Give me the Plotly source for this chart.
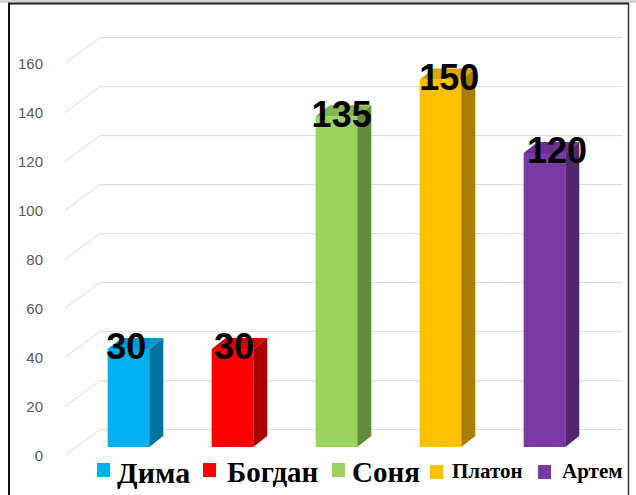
import plotly.graph_objects as go

# ---------------- data ----------------
names = ["Дима", "Богдан", "Соня", "Платон", "Артем"]
values = [40, 40, 135, 150, 120]            # bar heights as drawn
label_texts = ["30", "30", "135", "150", "120"]  # data labels as printed
colors = ["#00B0F0", "#FF0000", "#9AD35E", "#FFC000", "#7A3AA6"]
y_ticks = [0, 20, 40, 60, 80, 100, 120, 140, 160]
legend_sizes = [30, 29, 29, 21, 21]

# ---------------- styling / geometry ----------------
W, H = 636, 495
ML, MR, MT, MB = 10, 10, 20, 35
BAR_W = 0.4
DEPTH_X = 0.135
DEPTH_Y = 4.5
FRONT_SHIFT = -3.5
BACK_SHIFT = 7.1
GRID_FRONT_X = -0.611
GRID_BACK_X = -0.274
GRID_END_X = 4.745
X_RANGE = [-1.139, 4.784]
Y_RANGE = [-5.306, 174.29]
LABEL_DX0, LABEL_DX_STEP, LABEL_DY = -0.02, 0.035, -0.6


def shade(hexc, f):
    h = hexc.lstrip("#")
    r, g, b = (int(h[i:i + 2], 16) for i in (0, 2, 4))
    return "rgb(%d,%d,%d)" % (int(r * f), int(g * f), int(b * f))


def px(xp):
    return (xp - ML) / (W - ML - MR)


def py(yp):
    return (H - MB - yp) / (H - MT - MB)


fig = go.Figure()
shapes = []

# 3D gridlines (side diagonal + back wall), drawn below the traces
for t in y_ticks:
    path = "M %f,%f L %f,%f L %f,%f" % (
        GRID_FRONT_X, t + FRONT_SHIFT, GRID_BACK_X, t + BACK_SHIFT,
        GRID_END_X, t + BACK_SHIFT)
    shapes.append(dict(type="path", xref="x", yref="y", path=path,
                       line=dict(color="#D9D9D9", width=1), layer="below"))

xs = list(range(len(names)))

# side and top faces
for i, v in enumerate(values):
    r = i + BAR_W / 2
    l = i - BAR_W / 2
    fig.add_trace(go.Scatter(
        x=[r, r + DEPTH_X, r + DEPTH_X, r, r],
        y=[0, DEPTH_Y, v + DEPTH_Y, v, 0],
        mode="lines", fill="toself", fillcolor=shade(colors[i], 0.66),
        line=dict(width=0, color=shade(colors[i], 0.66)),
        hoverinfo="skip", showlegend=False))
    fig.add_trace(go.Scatter(
        x=[l, r, r + DEPTH_X, l + DEPTH_X, l],
        y=[v, v, v + DEPTH_Y, v + DEPTH_Y, v],
        mode="lines", fill="toself", fillcolor=shade(colors[i], 0.86),
        line=dict(width=0, color=shade(colors[i], 0.86)),
        hoverinfo="skip", showlegend=False))

# front faces
fig.add_trace(go.Bar(x=xs, y=values, width=BAR_W, marker_color=colors,
                     marker_line_width=0, showlegend=False, hovertext=names))

# data labels
fig.add_trace(go.Scatter(
    x=[i + LABEL_DX0 + LABEL_DX_STEP * i for i in xs],
    y=[v + LABEL_DY for v in values],
    mode="text", text=label_texts, textposition="middle center",
    textfont=dict(family="Liberation Sans", size=36, color="black",
                  weight="bold"),
    hoverinfo="skip", showlegend=False, cliponaxis=False))

# invisible trace for label axis
fig.add_trace(go.Scatter(x=[None], y=[None], yaxis="y2", showlegend=False))

# legend (manual: squares + text)
sq_left = [97, 203, 332, 430, 538]
sq_top = [463, 463, 463, 465, 465]
txt_left = [117, 227, 352, 452, 562]
txt_mid = [472, 472, 472, 471, 471]
annotations = []
for i, n in enumerate(names):
    shapes.append(dict(type="rect", xref="paper", yref="paper",
                       x0=px(sq_left[i]), x1=px(sq_left[i] + 13),
                       y0=py(sq_top[i] + 14), y1=py(sq_top[i]),
                       fillcolor=colors[i], line=dict(width=0)))
    annotations.append(dict(xref="paper", yref="paper", x=px(txt_left[i] - 2),
                            y=py(txt_mid[i]), xanchor="left", yanchor="middle",
                            text="<b>%s</b>" % n, showarrow=False,
                            font=dict(family="Liberation Serif",
                                      size=legend_sizes[i], color="black")))

# frame
shapes += [
    dict(type="rect", xref="paper", yref="paper", x0=px(0), x1=px(636),
         y0=py(3), y1=py(0), fillcolor="#D4D4D4", line=dict(width=0)),
    dict(type="line", xref="paper", yref="paper", x0=px(8), x1=px(629),
         y0=py(3.5), y1=py(3.5), line=dict(color="#222", width=2)),
    dict(type="line", xref="paper", yref="paper", x0=px(9), x1=px(9),
         y0=py(3), y1=py(495), line=dict(color="#111", width=2)),
    dict(type="line", xref="paper", yref="paper", x0=px(628.5), x1=px(628.5),
         y0=py(3), y1=py(495), line=dict(color="#333", width=1.5)),
]

fig.update_layout(
    width=W, height=H,
    margin=dict(l=ML, r=MR, t=MT, b=MB),
    paper_bgcolor="white", plot_bgcolor="white",
    barmode="overlay",
    showlegend=False,
    xaxis=dict(range=X_RANGE, visible=False, fixedrange=True),
    yaxis=dict(range=Y_RANGE, visible=False, fixedrange=True),
    yaxis2=dict(overlaying="y", anchor="free", position=px(43), side="left",
                range=[Y_RANGE[0] - FRONT_SHIFT, Y_RANGE[1] - FRONT_SHIFT],
                tickvals=y_ticks, ticks="", showgrid=False, zeroline=False,
                showline=False, fixedrange=True,
                tickfont=dict(family="Liberation Sans", size=15, color="#595959")),
    shapes=shapes,
    annotations=annotations,
)

fig.write_html("out.html",
               config={"displayModeBar": False},
               post_script="document.body.style.margin='0';"
                           "document.body.style.overflow='hidden';")
